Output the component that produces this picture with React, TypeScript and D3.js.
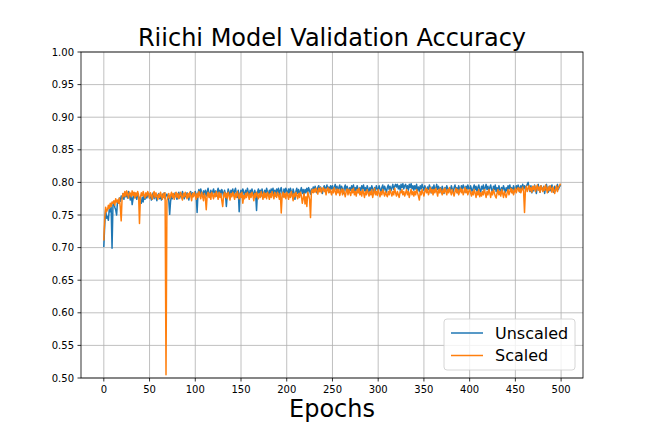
import * as d3 from 'd3';
import React from 'react';

const title = 'Riichi Model Validation Accuracy';
const xLabel = 'Epochs';
const seriesNames = ['Unscaled', 'Scaled'];
const seriesColors = ['#1f77b4', '#ff7f0e'];
const xTicks = [0, 50, 100, 150, 200, 250, 300, 350, 400, 450, 500];
const yTicks = [0.5, 0.55, 0.6, 0.65, 0.7, 0.75, 0.8, 0.85, 0.9, 0.95, 1.0];

// validation accuracy per epoch
const unscaled = [
  .702, .735, .758, .745, .748, .742, .760, .755, .762, .699,
  .765, .770, .762, .758, .750, .772, .768, .776, .771, .779,
  .775, .783, .774, .785, .778, .784, .776, .786, .780, .773,
  .782, .766, .775, .784, .777, .781, .774, .783, .778, .776,
  .772, .768, .777, .770, .780, .774, .782, .776, .780, .783,
  .776, .781, .773, .780, .784, .775, .781, .777, .772, .780,
  .783, .775, .780, .773, .782, .777, .784, .775, .780, .782,
  .777, .773, .751, .771, .780, .775, .782, .777, .784, .779,
  .774, .781, .785, .776, .783, .778, .786, .780, .775, .783,
  .778, .784, .780, .773, .782, .786, .777, .784, .779, .782,
  .786, .781, .754, .784, .789, .780, .790, .784, .778, .787,
  .781, .788, .779, .786, .791, .783, .777, .788, .781, .786,
  .790, .780, .787, .779, .786, .791, .782, .788, .780, .789,
  .785, .778, .788, .782, .763, .781, .790, .785, .778, .788,
  .783, .790, .780, .787, .791, .782, .777, .788, .755, .783,
  .788, .780, .790, .785, .777, .788, .782, .791, .785, .779,
  .788, .782, .790, .784, .777, .788, .782, .757, .785, .790,
  .782, .788, .779, .790, .784, .777, .788, .782, .791, .785,
  .779, .788, .782, .790, .784, .791, .781, .788, .779, .790,
  .784, .791, .781, .788, .792, .783, .778, .790, .784, .791,
  .787, .781, .790, .784, .791, .786, .779, .790, .784, .774,
  .786, .791, .783, .789, .781, .787, .792, .783, .789, .780,
  .789, .784, .791, .785, .792, .787, .782, .790, .785, .793,
  .787, .794, .789, .784, .792, .795, .786, .793, .789, .783,
  .791, .795, .786, .792, .796, .788, .793, .785, .795, .790,
  .795, .787, .792, .797, .789, .794, .785, .792, .796, .788,
  .794, .790, .783, .792, .796, .787, .794, .790, .785, .792,
  .788, .795, .790, .796, .785, .792, .788, .795, .790, .784,
  .792, .787, .795, .790, .796, .787, .792, .785, .795, .790,
  .785, .792, .788, .795, .790, .783, .792, .787, .795, .790,
  .788, .795, .790, .785, .792, .796, .787, .794, .790, .785,
  .792, .796, .789, .794, .787, .792, .797, .789, .794, .797,
  .793, .797, .790, .795, .788, .797, .792, .798, .790, .795,
  .797, .790, .795, .788, .797, .792, .798, .790, .795, .788,
  .795, .790, .797, .788, .793, .786, .795, .790, .797, .792,
  .788, .795, .790, .786, .793, .789, .796, .791, .784, .793,
  .789, .796, .786, .791, .797, .789, .794, .786, .792, .784,
  .794, .789, .783, .792, .787, .795, .790, .785, .792, .787,
  .795, .790, .785, .792, .796, .787, .792, .784, .795, .790,
  .787, .795, .790, .796, .792, .785, .794, .789, .796, .791,
  .787, .795, .790, .784, .792, .796, .789, .794, .786, .792,
  .796, .789, .784, .794, .790, .796, .786, .792, .797, .789,
  .794, .786, .792, .796, .789, .784, .794, .789, .796, .786,
  .792, .784, .795, .790, .782, .792, .787, .795, .790, .785,
  .792, .787, .795, .790, .796, .787, .792, .784, .795, .790,
  .787, .795, .790, .796, .792, .785, .795, .790, .797, .791,
  .795, .789, .794, .797, .800, .791, .786, .795, .784, .792,
  .787, .796, .789, .783, .794, .797, .789, .785, .795, .791,
  .787, .794, .783, .792, .797, .789, .785, .794, .787, .792,
  .796, .789, .785, .794, .787, .792, .797, .789, .793, .795,
];

const scaled = [
  .712, .745, .762, .755, .758, .765, .760, .768, .763, .770,
  .768, .772, .765, .775, .770, .773, .768, .776, .762, .741,
  .777, .783, .778, .786, .779, .787, .782, .776, .785, .783,
  .778, .787, .780, .785, .776, .784, .779, .786, .781, .737,
  .777, .784, .779, .786, .781, .776, .784, .779, .786, .782,
  .776, .784, .780, .774, .782, .786, .777, .784, .779, .774,
  .782, .777, .785, .779, .774, .783, .777, .784, .505, .772,
  .778, .783, .775, .780, .785, .777, .783, .774, .780, .785,
  .777, .783, .775, .780, .785, .777, .773, .783, .778, .785,
  .780, .775, .783, .777, .785, .780, .772, .783, .778, .785,
  .780, .774, .783, .777, .786, .780, .775, .785, .779, .772,
  .783, .777, .758, .780, .785, .777, .783, .774, .785, .780,
  .775, .783, .778, .786, .780, .774, .785, .777, .783, .772,
  .763, .780, .785, .777, .783, .775, .785, .780, .773, .783,
  .778, .785, .780, .774, .783, .777, .786, .780, .775, .783,
  .777, .785, .768, .780, .775, .783, .777, .785, .780, .774,
  .783, .777, .785, .780, .772, .783, .777, .785, .780, .775,
  .783, .777, .786, .780, .774, .785, .777, .783, .775, .785,
  .780, .774, .783, .777, .786, .780, .775, .785, .780, .777,
  .785, .780, .774, .783, .753, .780, .785, .777, .783, .775,
  .785, .780, .774, .783, .777, .786, .780, .772, .783, .778,
  .785, .780, .775, .783, .777, .785, .780, .768, .775, .783,
  .767, .778, .763, .785, .780, .774, .746, .786, .789, .784,
  .790, .785, .791, .787, .782, .791, .786, .792, .784, .789,
  .792, .786, .790, .781, .789, .792, .784, .790, .786, .781,
  .789, .784, .792, .786, .781, .790, .784, .789, .780, .786,
  .790, .781, .789, .784, .778, .786, .790, .781, .789, .784,
  .780, .789, .784, .791, .781, .786, .779, .789, .784, .791,
  .781, .786, .779, .789, .784, .777, .786, .781, .789, .784,
  .779, .786, .781, .789, .777, .784, .791, .781, .786, .780,
  .789, .784, .778, .786, .781, .789, .784, .779, .786, .781,
  .778, .786, .781, .789, .784, .779, .786, .781, .791, .784,
  .779, .786, .781, .777, .786, .784, .789, .781, .786, .779,
  .784, .789, .781, .786, .777, .784, .789, .781, .786, .779,
  .786, .781, .789, .784, .779, .773, .786, .781, .789, .784,
  .779, .786, .791, .784, .789, .781, .786, .792, .784, .789,
  .781, .789, .784, .791, .786, .779, .789, .784, .791, .786,
  .781, .789, .784, .791, .786, .781, .789, .784, .792, .786,
  .781, .789, .784, .779, .786, .791, .784, .789, .781, .786,
  .791, .784, .789, .781, .786, .792, .784, .789, .781, .786,
  .789, .784, .779, .786, .781, .789, .784, .777, .786, .781,
  .789, .778, .784, .779, .786, .781, .789, .784, .777, .786,
  .781, .789, .784, .777, .786, .781, .789, .784, .779, .776,
  .784, .789, .781, .786, .779, .789, .784, .777, .786, .781,
  .777, .784, .789, .781, .786, .791, .784, .789, .781, .786,
  .791, .784, .789, .792, .786, .791, .784, .789, .793, .786,
  .754, .789, .794, .786, .791, .795, .787, .792, .785, .794,
  .789, .795, .786, .791, .796, .788, .793, .785, .795, .790,
  .786, .793, .788, .796, .790, .784, .793, .788, .795, .790,
  .785, .793, .788, .783, .790, .795, .786, .792, .794, .797,
];

const series = [unscaled, scaled];

const W = 648;
const H = 432;
const margin = {left: 81, right: 65, top: 52, bottom: 54};
const font = '"DejaVu Sans", sans-serif';

export default function App() {
  const x0 = margin.left;
  const x1 = W - margin.right;
  const y0 = H - margin.bottom;
  const y1 = margin.top;

  const n = unscaled.length;
  const pad = (n - 1) * 0.05;
  const x = d3.scaleLinear().domain([-pad, n - 1 + pad]).range([x0, x1]);
  const y = d3.scaleLinear().domain([0.5, 1.0]).range([y0, y1]);

  const line = d3.line<number>()
    .x((_, i) => x(i))
    .y(d => y(d));

  const legendRight = x1 - 8;
  const legendBottom = y0 - 8;
  const legendW = 131;
  const legendH = 51;
  const lx = legendRight - legendW;
  const ly = legendBottom - legendH;

  return (
    <div style={{position: 'fixed', left: 0, top: 0}}>
      <svg width={W} height={H} style={{display: 'block', background: '#fff'}} fontFamily={font}>
        <defs>
          <clipPath id="plot-clip">
            <rect x={x0} y={y1} width={x1 - x0} height={y0 - y1}/>
          </clipPath>
        </defs>

        {/* grid */}
        {xTicks.map(t => (
          <line key={'gx' + t} x1={x(t)} x2={x(t)} y1={y1} y2={y0} stroke="#b0b0b0" strokeWidth={0.8}/>
        ))}
        {yTicks.map(t => (
          <line key={'gy' + t} x1={x0} x2={x1} y1={y(t)} y2={y(t)} stroke="#b0b0b0" strokeWidth={0.8}/>
        ))}

        {/* lines */}
        <g clipPath="url(#plot-clip)">
          {series.map((s, i) => (
            <path key={seriesNames[i]} d={line(s) ?? ''} fill="none" stroke={seriesColors[i]}
              strokeWidth={1.5} strokeLinejoin="round" strokeLinecap="square"/>
          ))}
        </g>

        {/* spines */}
        <rect x={x0} y={y1} width={x1 - x0} height={y0 - y1} fill="none" stroke="#000" strokeWidth={0.8}/>

        {/* x ticks */}
        {xTicks.map(t => (
          <g key={'tx' + t}>
            <line x1={x(t)} x2={x(t)} y1={y0} y2={y0 + 3.5} stroke="#000" strokeWidth={0.8}/>
            <text x={x(t)} y={y0 + 7} dy="0.76em" textAnchor="middle" fontSize={10}>{t}</text>
          </g>
        ))}

        {/* y ticks */}
        {yTicks.map(t => (
          <g key={'ty' + t}>
            <line x1={x0 - 3.5} x2={x0} y1={y(t)} y2={y(t)} stroke="#000" strokeWidth={0.8}/>
            <text x={x0 - 7} y={y(t)} dy="0.36em" textAnchor="end" fontSize={10}>{d3.format('.2f')(t)}</text>
          </g>
        ))}

        <text x={(x0 + x1) / 2} y={y1 - 6} textAnchor="middle" fontSize={24}>{title}</text>
        <text x={(x0 + x1) / 2} y={417} textAnchor="middle" fontSize={24}>{xLabel}</text>

        {/* legend */}
        <rect x={lx} y={ly} width={legendW} height={legendH} rx={3} fill="#fff" fillOpacity={0.8}
          stroke="#cccccc" strokeWidth={0.8}/>
        {seriesNames.map((name, i) => {
          const cy = ly + 14 + i * 22.5;
          return (
            <g key={'lg' + name}>
              <line x1={lx + 7} x2={lx + 39} y1={cy} y2={cy} stroke={seriesColors[i]} strokeWidth={1.5}/>
              <text x={lx + 51} y={cy} dy="0.36em" fontSize={16}>{name}</text>
            </g>
          );
        })}
      </svg>
    </div>
  );
}
